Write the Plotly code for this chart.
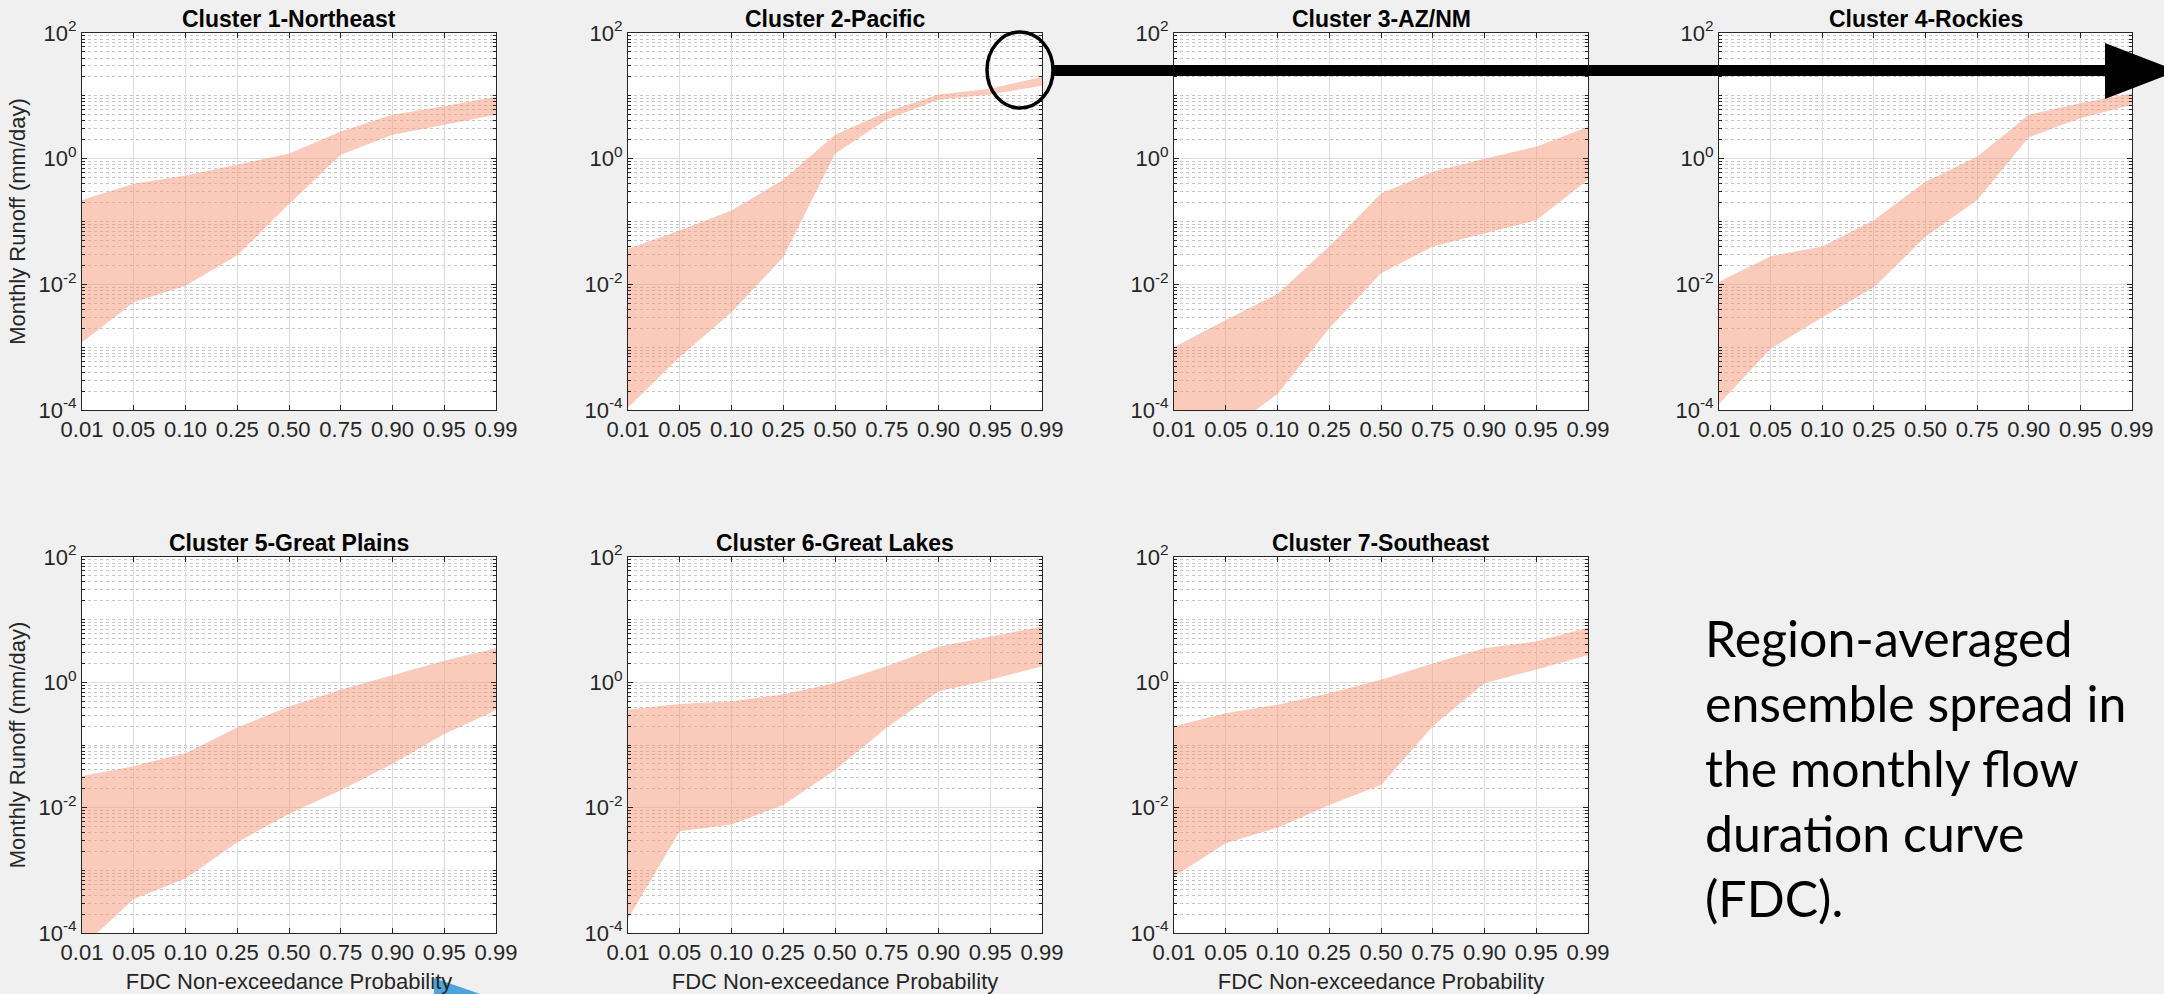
import plotly.graph_objects as go

# ---------------- data ----------------
prob_labels = ["0.01", "0.05", "0.10", "0.25", "0.50", "0.75", "0.90", "0.95", "0.99"]

titles = ["Cluster 1-Northeast", "Cluster 2-Pacific", "Cluster 3-AZ/NM", "Cluster 4-Rockies",
          "Cluster 5-Great Plains", "Cluster 6-Great Lakes", "Cluster 7-Southeast"]

c1_upper = [0.22, 0.40, 0.54, 0.80, 1.2, 2.7, 5.0, 6.8, 9.7]
c1_lower = [1.2e-3, 5.2e-3, 9.5e-3, 0.029, 0.19, 1.15, 2.4, 3.5, 5.0]

c2_upper = [0.037, 0.072, 0.15, 0.46, 2.4, 5.6, 10.5, 13.0, 20.0]
c2_lower = [1.1e-4, 7e-4, 3.6e-3, 0.027, 1.2, 4.2, 8.7, 10.5, 14.5]

c3_upper = [1e-3, 2.7e-3, 7e-3, 0.04, 0.28, 0.62, 1.0, 1.55, 3.2]
c3_lower = [2e-5, 4.5e-5, 1.8e-4, 2e-3, 0.015, 0.04, 0.065, 0.105, 0.46]

c4_upper = [0.011, 0.028, 0.04, 0.105, 0.43, 1.07, 5.0, 7.6, 11.0]
c4_lower = [1.25e-4, 9.4e-4, 3e-3, 9e-3, 0.057, 0.22, 2.2, 4.4, 7.2]

c5_upper = [0.032, 0.046, 0.074, 0.19, 0.41, 0.76, 1.3, 2.2, 3.5]
c5_lower = [6e-5, 3.5e-4, 7.4e-4, 2.8e-3, 8e-3, 0.019, 0.05, 0.15, 0.36]

c6_upper = [0.37, 0.45, 0.50, 0.64, 0.98, 1.8, 3.7, 5.4, 7.8]
c6_lower = [1.7e-4, 4.2e-3, 5.4e-3, 0.011, 0.04, 0.19, 0.72, 1.1, 1.8]

c7_upper = [0.20, 0.32, 0.44, 0.67, 1.1, 2.0, 3.5, 4.5, 7.4]
c7_lower = [8e-4, 2.7e-3, 4.8e-3, 0.011, 0.023, 0.20, 0.98, 1.6, 2.7]

uppers = [c1_upper, c2_upper, c3_upper, c4_upper, c5_upper, c6_upper, c7_upper]
lowers = [c1_lower, c2_lower, c3_lower, c4_lower, c5_lower, c6_lower, c7_lower]

y_tickvals = [1e-4, 1e-2, 1e0, 1e2]
y_ticktext = ["10<sup>-4</sup>", "10<sup>-2</sup>", "10<sup>0</sup>", "10<sup>2</sup>"]

ylabel = "Monthly Runoff (mm/day)"
xlabel = "FDC Non-exceedance Probability"
side_text = "Region-averaged<br>ensemble spread in<br>the monthly flow<br>duration curve<br>(FDC)."

# ---------------- layout geometry ----------------
W, H = 2164, 994
col_px = [(82, 496), (628, 1042), (1174, 1588), (1719, 2132)]
row_px = [(33, 410), (557, 933)]

def px(x):
    return x / W

def py(y):
    return 1 - y / H

AX_FONT = dict(family="Liberation Sans, Arial, sans-serif", size=22, color="#262626")
LBL_FONT = dict(family="Liberation Sans, Arial, sans-serif", size=22, color="#262626")
FILL = "rgba(245,150,120,0.5)"
MAJOR_GRID = "rgb(222,222,222)"
MINOR_GRID = "rgb(198,198,198)"
AXIS_COLOR = "#262626"

minor_vals = [k * 10.0 ** n for n in range(-4, 2) for k in range(1, 10)
              if not (k == 1 and n % 2 == 0)]

fig = go.Figure()
layout = dict(
    width=W, height=H, autosize=False,
    margin=dict(l=0, r=0, t=0, b=0, autoexpand=False),
    paper_bgcolor="rgb(240,240,240)",
    plot_bgcolor="white",
    showlegend=False,
)
annotations = []

xs = list(range(len(prob_labels)))

for i in range(7):
    r, c = divmod(i, 4)
    n = "" if i == 0 else str(i + 1)
    x0, x1 = col_px[c]
    y0, y1 = row_px[r]

    up, lo = uppers[i], lowers[i]
    fig.add_trace(go.Scatter(
        x=xs + xs[::-1], y=up + lo[::-1],
        fill="toself", fillcolor=FILL, mode="lines",
        line=dict(width=0, color=FILL),
        hoverinfo="skip", showlegend=False,
        xaxis="x" + n, yaxis="y" + n,
    ))

    xa = dict(
        domain=[px(x0), px(x1)], anchor="y" + n, automargin=False,
        range=[0, len(prob_labels) - 1],
        tickmode="array", tickvals=xs, ticktext=prob_labels,
        ticks="inside", ticklen=5, tickcolor=AXIS_COLOR, tickwidth=1,
        showline=True, linecolor=AXIS_COLOR, linewidth=1, mirror="ticks",
        showgrid=True, gridcolor=MAJOR_GRID, gridwidth=1, zeroline=False,
        tickfont=AX_FONT, fixedrange=True,
    )
    if r == 1:
        xa["title"] = dict(text=xlabel, font=LBL_FONT, standoff=10)
    ya = dict(
        domain=[py(y1), py(y0)], anchor="x" + n, automargin=False,
        type="log", range=[-4, 2],
        tickmode="array", tickvals=y_tickvals, ticktext=y_ticktext,
        ticks="inside", ticklen=5, tickcolor=AXIS_COLOR, tickwidth=1,
        showline=True, linecolor=AXIS_COLOR, linewidth=1, mirror="ticks",
        showgrid=True, gridcolor=MAJOR_GRID, gridwidth=1, zeroline=False,
        tickfont=AX_FONT, fixedrange=True,
        minor=dict(tickmode="array", tickvals=minor_vals, ticks="inside", ticklen=3,
                   tickcolor=AXIS_COLOR, showgrid=True, gridcolor=MINOR_GRID,
                   griddash="dot", gridwidth=1),
    )
    if c == 0:
        ya["title"] = dict(text=ylabel, font=LBL_FONT, standoff=6)
    layout["xaxis" + n] = xa
    layout["yaxis" + n] = ya

    annotations.append(dict(
        text="<b>" + titles[i] + "</b>", xref="paper", yref="paper",
        x=(px(x0) + px(x1)) / 2, y=py(y0), xanchor="center", yanchor="bottom",
        yshift=-1, showarrow=False,
        font=dict(family="Liberation Sans, Arial, sans-serif", size=23, color="black"),
    ))

annotations.append(dict(
    text=side_text, xref="paper", yref="paper", x=px(1703), y=py(606),
    xanchor="left", yanchor="top", align="left", showarrow=False,
    font=dict(family="Lato, Open Sans, sans-serif", size=50, color="black"),
))
layout["annotations"] = annotations

# decorative call-out (circle + arrow) and blue corner shape
shapes = [
    dict(type="circle", xref="paper", yref="paper",
         x0=px(987), x1=px(1053), y0=py(108), y1=py(32),
         line=dict(color="black", width=3.5), layer="above"),
    dict(type="line", xref="paper", yref="paper",
         x0=px(1053), x1=px(2110), y0=py(70.5), y1=py(70.5),
         line=dict(color="black", width=11), layer="above"),
    dict(type="path", xref="paper", yref="paper",
         path=f"M {px(2105)},{py(43)} L {px(2178)},{py(71)} L {px(2105)},{py(99)} Z",
         fillcolor="black", line=dict(width=0), layer="above"),
    dict(type="path", xref="paper", yref="paper",
         path=f"M {px(434)},{py(978)} L {px(486)},{py(996)} L {px(434)},{py(996)} Z",
         fillcolor="rgb(79,163,220)", line=dict(width=0), layer="above"),
]
layout["shapes"] = shapes

fig.update_layout(**layout)
fig.write_html(
    "out.html",
    config={"displayModeBar": False},
    post_script="document.body.style.margin='0px';document.body.style.background='rgb(240,240,240)';",
)
